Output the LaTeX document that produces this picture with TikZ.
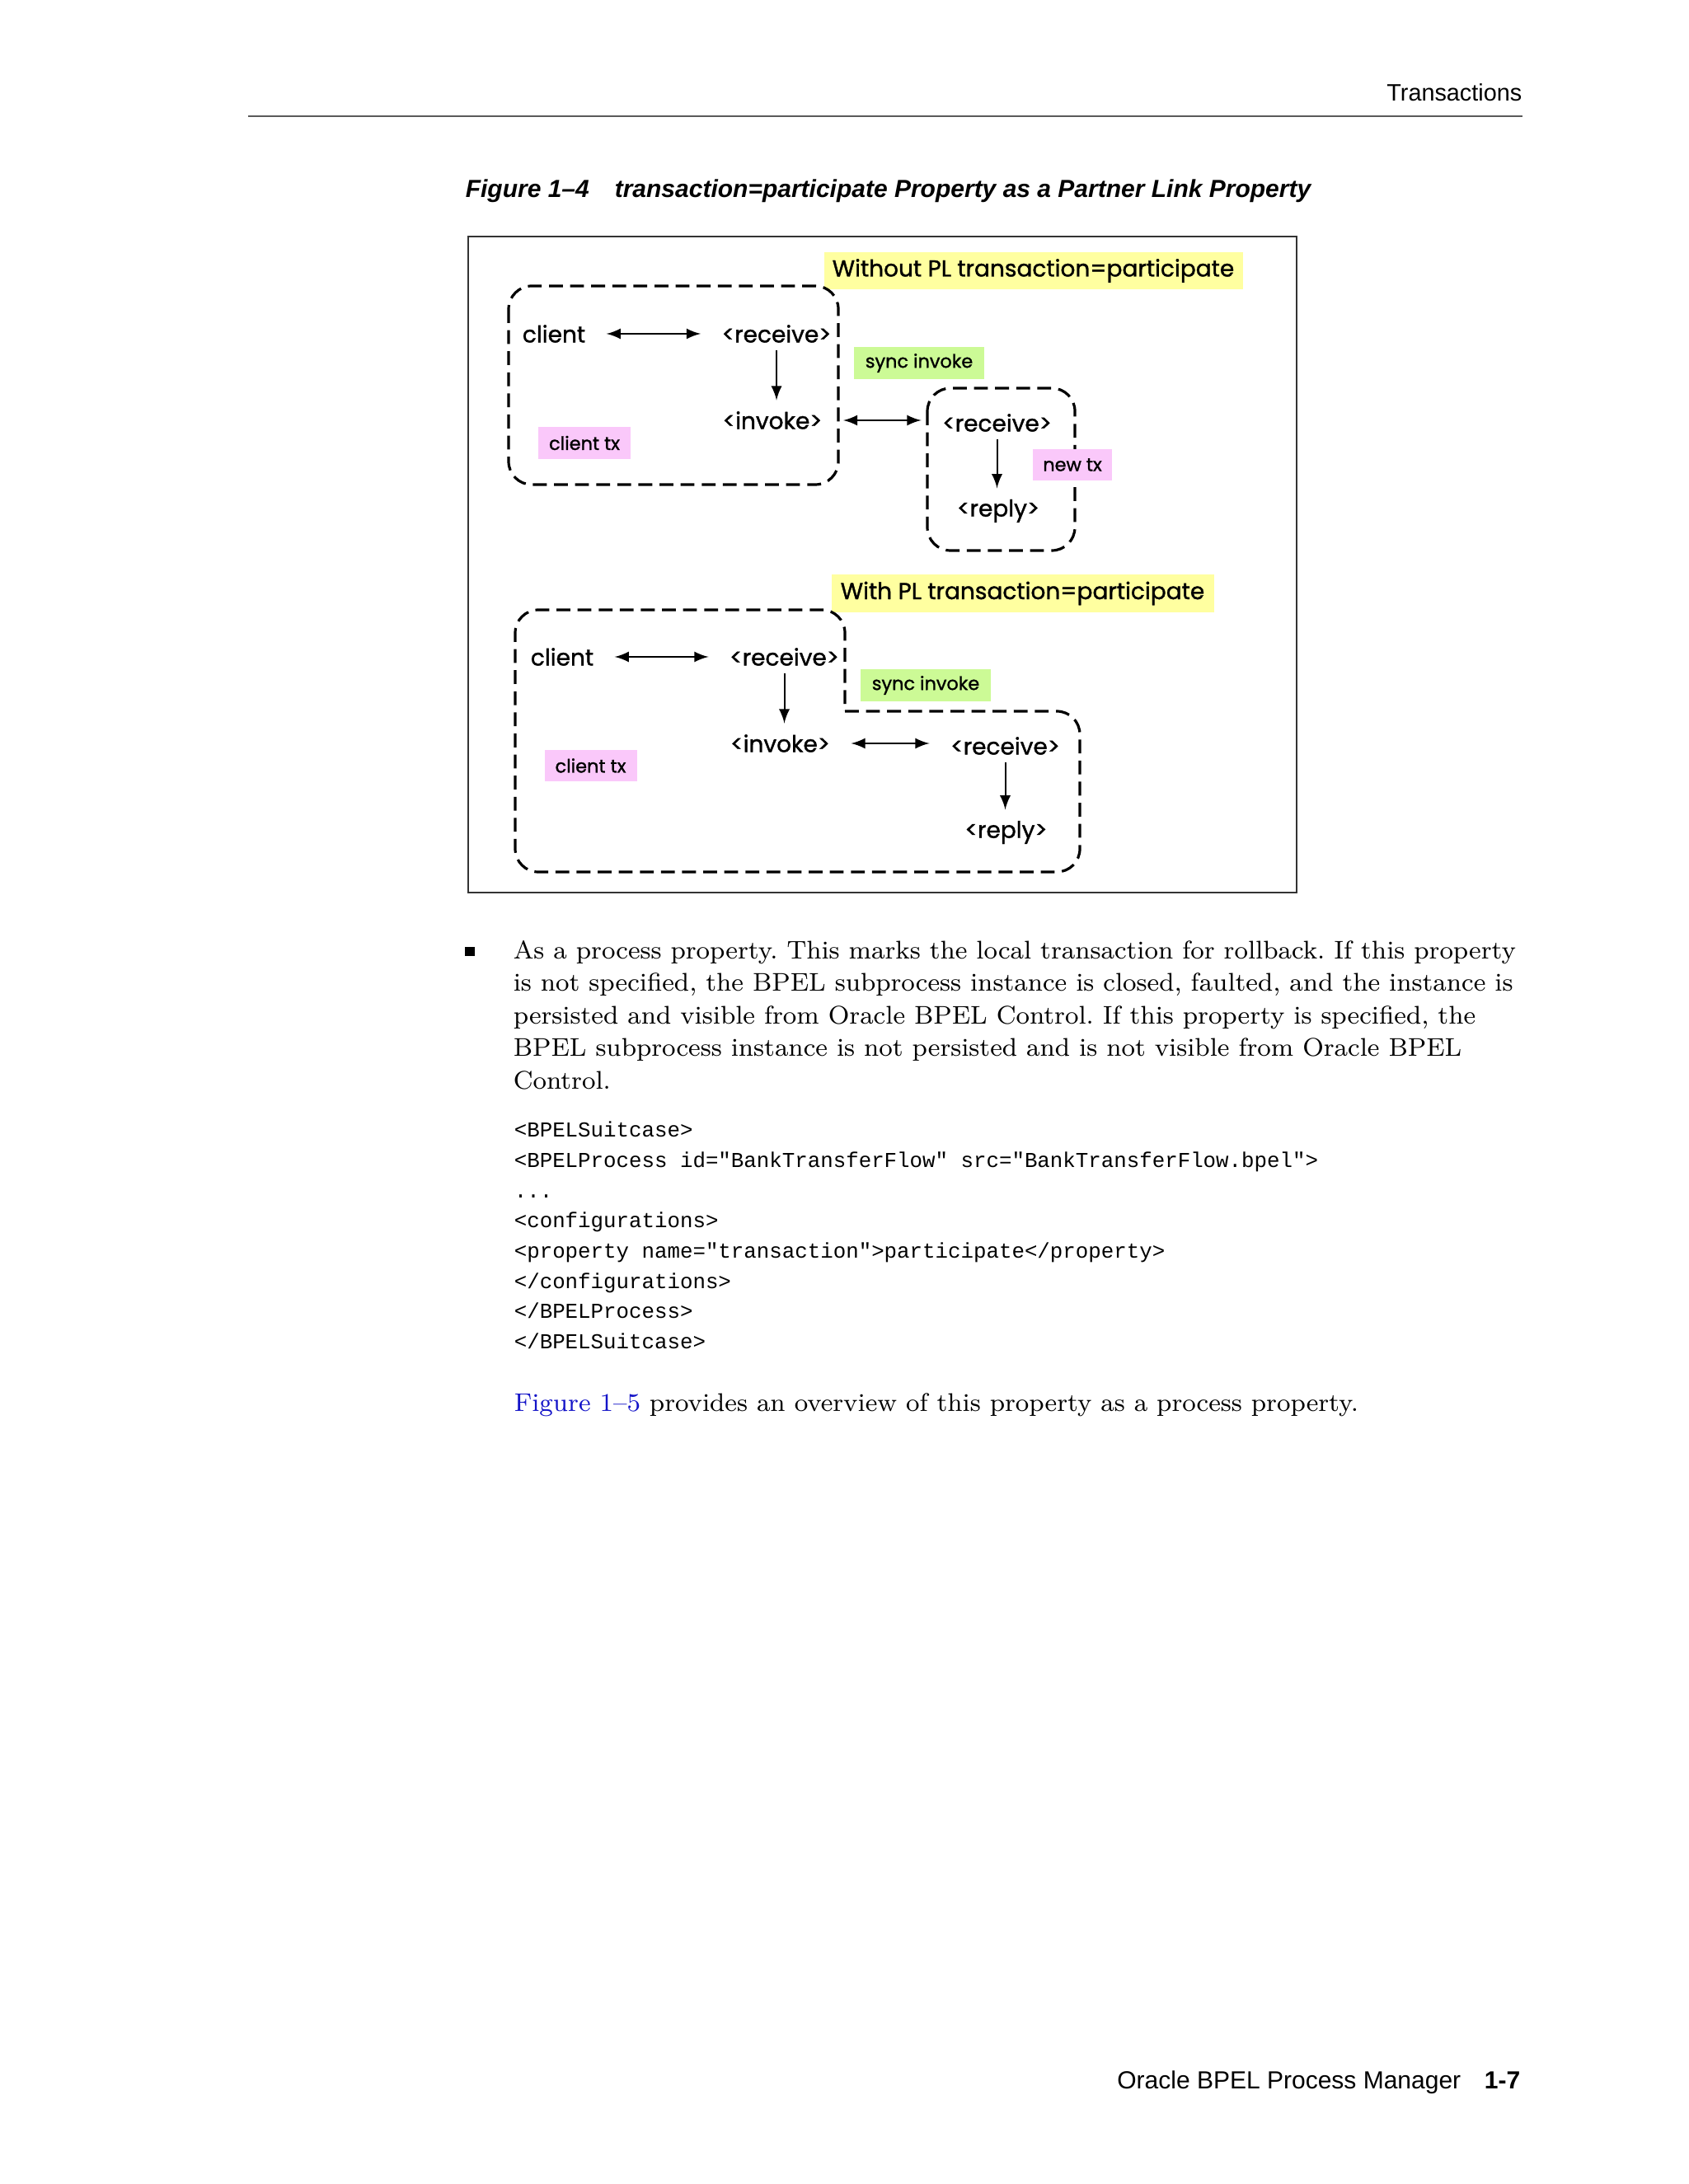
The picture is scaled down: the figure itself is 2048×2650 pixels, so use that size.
\documentclass[tikz,border=0pt]{standalone}
\usepackage{fontspec}
\usepackage{xcolor}
\usetikzlibrary{arrows, positioning}
\newfontfamily\helv{Liberation Sans}
\newfontfamily\gothic[FakeBold=1.2]{Poppins}
\newfontfamily\codefont{Liberation Mono}
\definecolor{noteyellow}{RGB}{255,255,160}
\definecolor{notegreen}{RGB}{204,250,150}
\definecolor{notepink}{RGB}{250,200,250}
\definecolor{linkblue}{RGB}{20,20,200}
\definecolor{rulegray}{RGB}{90,90,90}

\tikzset{
  lbl/.style={font=\gothic\fontsize{7}{8}\selectfont, inner sep=2.2pt},
  tag/.style={font=\gothic\fontsize{5.6}{6.5}\selectfont, inner sep=0pt, minimum height=9.75pt},
  headline/.style={font=\gothic\fontsize{7}{8}\selectfont, fill=noteyellow, inner sep=0pt, minimum height=11.3pt},
  groupbox/.style={draw, line width=0.8pt, dash pattern=on 4.2pt off 2.2pt, rounded corners=7pt},
  biarrow/.style={latex-latex, line width=0.5pt, shorten <=4pt, shorten >=4pt},
  downarrow/.style={-latex, line width=0.5pt, shorten >=1pt},
  bodytext/.style={anchor=base west, inner sep=0pt, font=\frenchspacing\fontsize{7.75}{9}\selectfont},
  codeline/.style={anchor=base west, inner sep=0pt, font=\codefont\fontsize{6.45}{7}\selectfont},
}

\begin{document}
\begin{tikzpicture}[x=0.25pt, y=-0.25pt]
    \useasboundingbox (0,0) rectangle (2048,2650);
    \fill[white] (0,0) rectangle (2048,2650);

    % Page header
    \node[anchor=base east, inner sep=0pt, font=\helv\fontsize{7.2}{8}\selectfont] (hdr) at (1847,123) {Transactions};
    \draw[rulegray, line width=0.45pt] (301,141) -- (1847,141);

    % Caption
    \node[anchor=base west, inner sep=0pt, font=\helv\bfseries\itshape\fontsize{7.5}{8}\selectfont] (capnum) at (564,240) {Figure 1–4};
    \node[anchor=base west, inner sep=0pt, font=\helv\bfseries\itshape\fontsize{7.5}{8}\selectfont] (captitle) at (745,240) {transaction=participate Property as a Partner Link Property};

    % Frame
    \draw[black!80, line width=0.5pt] (568,287) rectangle (1573,1083);

    % Without PL transaction=participate
    \node[headline, minimum width=127pt] (head1) at (1253.5,328.5) {Without PL transaction=participate};
    \draw[groupbox] (617,347) rectangle (1017,588);
    \draw[groupbox] (1125,471) rectangle (1304,668);

    \node[lbl] (client1) at (672,405) {client};
    \node[lbl] (rcv1) at (942,405) {<receive>};
    \node[lbl] (inv1) at (937,510) {<invoke>};
    \node[lbl] (rcv2) at (1209.5,513) {<receive>};
    \node[lbl] (reply2) at (1211,620) {<reply>};

    \node[tag, fill=notepink, minimum width=28pt] (ctx1) at (709,537.5) {client tx};
    \node[tag, fill=notegreen, minimum width=39.5pt] (sync1) at (1115,440.5) {sync invoke};
    \node[tag, fill=notepink, minimum width=24pt, minimum height=9.5pt] (newtx) at (1301,564) {new tx};

    \draw[biarrow] (client1) -- (rcv1);
    \draw[downarrow] (rcv1.south) -- (rcv1.south |- inv1.north);
    \draw[biarrow] (inv1.east) -- (inv1.east -| rcv2.west);
    \draw[downarrow] (rcv2.south) -- (rcv2.south |- reply2.north);

    % With PL transaction=participate
    \node[headline, minimum width=116pt, minimum height=11.5pt] (head2) at (1240.5,720) {With PL transaction=participate};
    \draw[groupbox] (1025,863) -- (1310,863) -- (1310,1058) -- (625,1058) -- (625,740) -- (1025,740) -- (1025,863);

    \node[lbl] (client3) at (682,797) {client};
    \node[lbl] (rcv3) at (951.5,797) {<receive>};
    \node[lbl] (inv3) at (946.5,902) {<invoke>};
    \node[lbl] (rcv4) at (1219.5,905) {<receive>};
    \node[lbl] (reply4) at (1220.5,1010) {<reply>};

    \node[tag, fill=notepink, minimum width=28pt, minimum height=9.5pt] (ctx3) at (716.5,929) {client tx};
    \node[tag, fill=notegreen, minimum width=39.5pt] (sync3) at (1123,831.5) {sync invoke};

    \draw[biarrow] (client3) -- (rcv3);
    \draw[downarrow] (rcv3.south) -- (rcv3.south |- inv3.north);
    \draw[biarrow] (inv3.east) -- (inv3.east -| rcv4.west);
    \draw[downarrow] (rcv4.south) -- (rcv4.south |- reply4.north);

    % Bullet paragraph
    \node[fill, inner sep=0pt, minimum size=2.9pt] (bullet) at (570,1154.5) {};
    \node[bodytext] (par1) at (622,1163) {As a process property. This marks the local transaction for rollback. If this property};
    \node[bodytext] (par2) at (622,1202.5) {is not specified, the BPEL subprocess instance is closed, faulted, and the instance is};
    \node[bodytext] (par3) at (622,1242) {persisted and visible from Oracle BPEL Control. If this property is specified, the};
    \node[bodytext] (par4) at (622,1281.5) {BPEL subprocess instance is not persisted and is not visible from Oracle BPEL};
    \node[bodytext] (par5) at (622,1321) {Control.};

    % Code
    \node[codeline] (code1) at (623,1379) {<BPELSuitcase>};
    \node[codeline] (code2) at (623,1416) {<BPELProcess id="BankTransferFlow" src="BankTransferFlow.bpel">};
    \node[codeline] (code3) at (623,1453) {...};
    \node[codeline] (code4) at (623,1489.5) {<configurations>};
    \node[codeline] (code5) at (623,1526) {<property name="transaction">participate</property>};
    \node[codeline] (code6) at (623,1563) {</configurations>};
    \node[codeline] (code7) at (623,1599.5) {</BPELProcess>};
    \node[codeline] (code8) at (623,1636) {</BPELSuitcase>};

    \node[bodytext] (par6) at (623,1712) {\textcolor{linkblue}{Figure 1–5} provides an overview of this property as a process property.};

    % Page footer
    \node[anchor=base east, inner sep=0pt, font=\helv\fontsize{7.5}{9}\selectfont] (ftr) at (1773,2534) {Oracle BPEL Process Manager};
    \node[anchor=base east, inner sep=0pt, font=\helv\bfseries\fontsize{7.5}{9}\selectfont] (pgno) at (1845,2534) {1-7};
\end{tikzpicture}
\end{document}
